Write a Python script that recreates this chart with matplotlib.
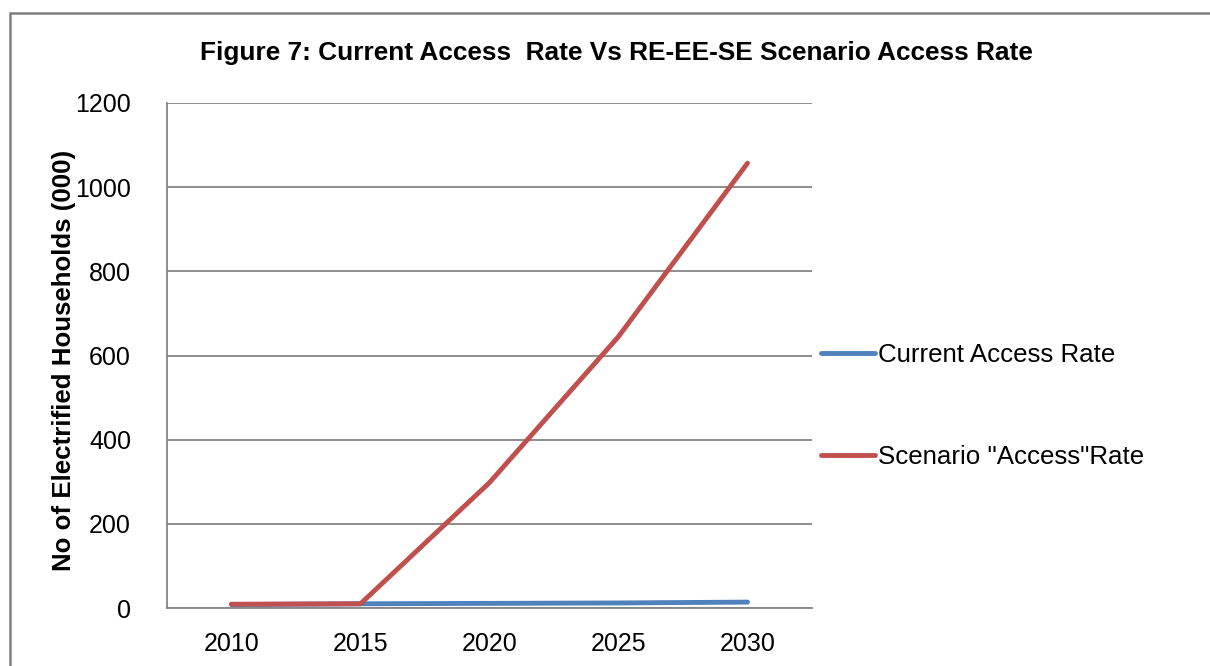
import matplotlib
matplotlib.use("Agg")
import matplotlib.pyplot as plt
from matplotlib.patches import Rectangle

plt.rcParams['font.family'] = ['Liberation Sans', 'DejaVu Sans']

years = ["2010", "2015", "2020", "2025", "2030"]
current_rate = [8, 10, 11, 12, 14]
scenario_rate = [9, 10, 298, 645, 1057]
y_ticks = [0, 200, 400, 600, 800, 1000, 1200]

title = "Figure 7: Current Access  Rate Vs RE-EE-SE Scenario Access Rate"
y_label = "No of Electrified Households (000)"
series_names = ["Current Access Rate", 'Scenario "Access"Rate']

W, H = 1210, 666
fig = plt.figure(figsize=(W / 100, H / 100), dpi=100)

# outer chart frame
fig.patches.append(Rectangle((10 / W, -0.05), 1.2, (H - 13) / H + 0.05,
                             transform=fig.transFigure, fill=False,
                             edgecolor="#808080", linewidth=1.8))

ax = fig.add_axes([167 / W, (H - 608) / H, (812 - 167) / W, (608 - 103) / H])
x = list(range(len(years)))
ax.plot(x, current_rate, color="#4F81BD", linewidth=3.5, solid_capstyle="round",
        label=series_names[0], zorder=3)
ax.plot(x, scenario_rate, color="#C0504D", linewidth=3.5, solid_capstyle="round",
        label=series_names[1], zorder=3)

ax.set_xlim(-0.5, len(years) - 0.5)
ax.set_ylim(0, 1200)
ax.set_yticks(y_ticks)
ax.set_xticks(x)
ax.set_xticklabels(years)
ax.grid(axis="y", color="#868686", linewidth=1.3)
ax.set_axisbelow(True)
for side in ("top", "right"):
    ax.spines[side].set_visible(False)
for side in ("left", "bottom"):
    ax.spines[side].set_color("#868686")
    ax.spines[side].set_linewidth(1.3)
ax.tick_params(length=0, labelsize=18)
ax.tick_params(axis="y", pad=26)
ax.tick_params(axis="x", pad=17)

ax.set_ylabel(y_label, fontsize=18.6, fontweight="bold")
ax.yaxis.set_label_coords(-0.141, 0.491)
fig.text(616 / W, (H - 53) / H, title, fontsize=18.9, fontweight="bold",
         ha="center", va="center")

ax.legend(loc="center left", bbox_to_anchor=(0.99, 0.40), frameon=False,
          fontsize=18.6, handlelength=2.1, handletextpad=0.12, labelspacing=3.05,
          borderaxespad=0.2)

fig.savefig("out.png", dpi=100)
